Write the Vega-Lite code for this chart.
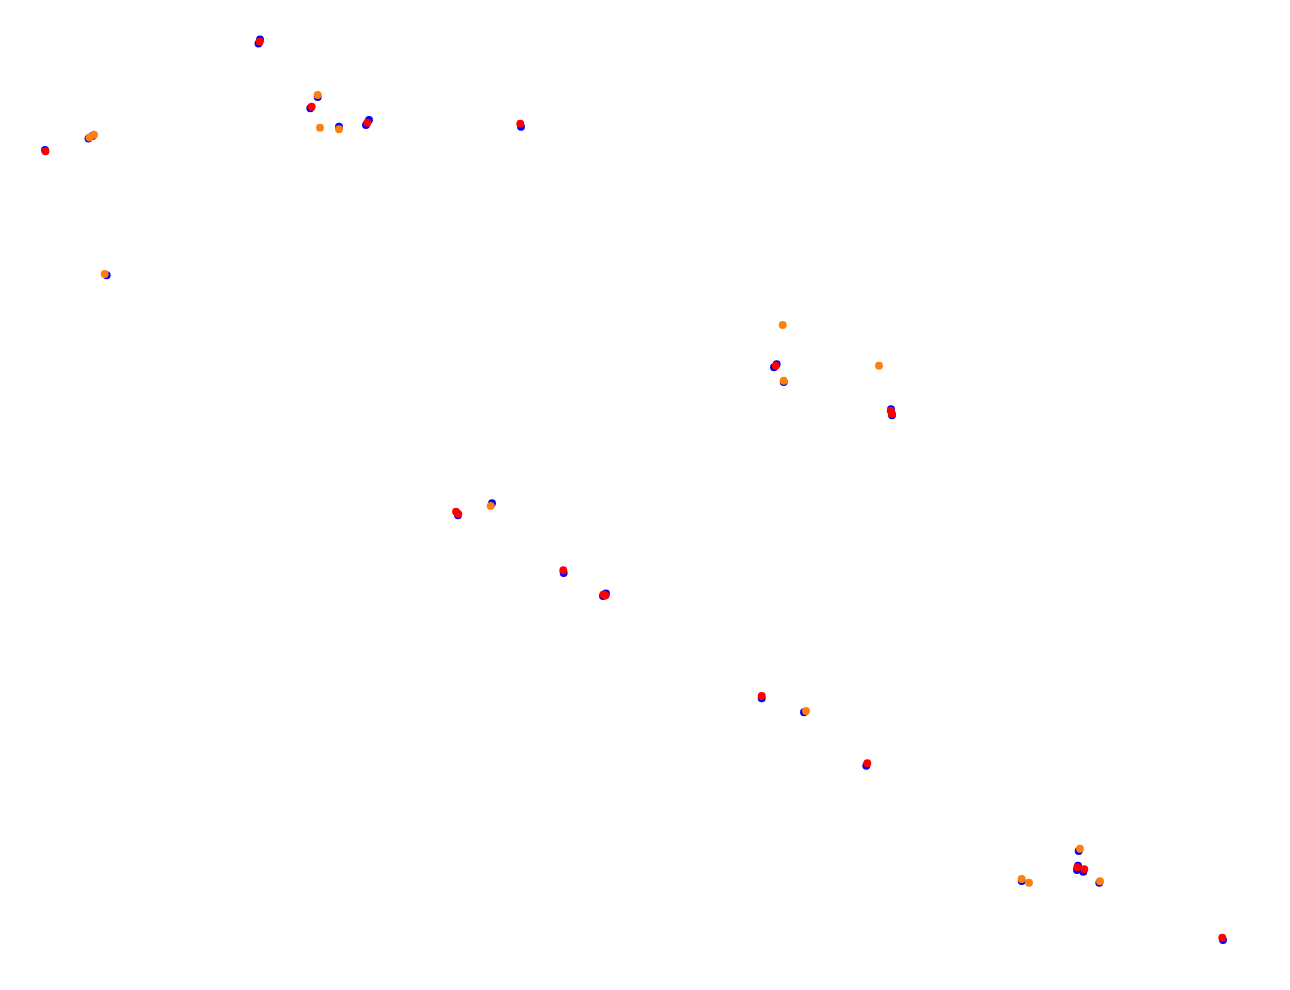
{
  "$schema": "https://vega.github.io/schema/vega-lite/v6.json",
  "width": 1290,
  "height": 990,
  "autosize": {"type": "none"},
  "padding": 0,
  "background": "white",
  "config": {"view": {"stroke": null}},
  "data": {"values": [
    {"x": 45, "y": 150, "s": "blue"},
    {"x": 88.5, "y": 138.5, "s": "blue"},
    {"x": 92.5, "y": 136, "s": "blue"},
    {"x": 260, "y": 39.5, "s": "blue"},
    {"x": 258.5, "y": 43.5, "s": "blue"},
    {"x": 317.7, "y": 97, "s": "blue"},
    {"x": 310.3, "y": 108.3, "s": "blue"},
    {"x": 339, "y": 126.7, "s": "blue"},
    {"x": 369, "y": 120, "s": "blue"},
    {"x": 366, "y": 125, "s": "blue"},
    {"x": 106.7, "y": 275.3, "s": "blue"},
    {"x": 521, "y": 126.7, "s": "blue"},
    {"x": 776.7, "y": 364.3, "s": "blue"},
    {"x": 774, "y": 367.3, "s": "blue"},
    {"x": 783.7, "y": 382, "s": "blue"},
    {"x": 891, "y": 409.3, "s": "blue"},
    {"x": 892, "y": 415.3, "s": "blue"},
    {"x": 458, "y": 515.3, "s": "blue"},
    {"x": 492, "y": 503.3, "s": "blue"},
    {"x": 563.7, "y": 573, "s": "blue"},
    {"x": 603, "y": 596, "s": "blue"},
    {"x": 606, "y": 593.5, "s": "blue"},
    {"x": 761.7, "y": 698.3, "s": "blue"},
    {"x": 804, "y": 712.3, "s": "blue"},
    {"x": 866.3, "y": 765.7, "s": "blue"},
    {"x": 1078.7, "y": 851, "s": "blue"},
    {"x": 1078, "y": 865.7, "s": "blue"},
    {"x": 1077, "y": 870, "s": "blue"},
    {"x": 1083.3, "y": 871.7, "s": "blue"},
    {"x": 1021.7, "y": 881, "s": "blue"},
    {"x": 1099.3, "y": 882.7, "s": "blue"},
    {"x": 1223, "y": 940, "s": "blue"},
    {"x": 89.5, "y": 137.5, "s": "orange"},
    {"x": 94, "y": 134.7, "s": "orange"},
    {"x": 317.7, "y": 95, "s": "orange"},
    {"x": 320, "y": 127.7, "s": "orange"},
    {"x": 339, "y": 129.3, "s": "orange"},
    {"x": 104.7, "y": 274, "s": "orange"},
    {"x": 782.7, "y": 325, "s": "orange"},
    {"x": 783.7, "y": 380.7, "s": "orange"},
    {"x": 879, "y": 365.7, "s": "orange"},
    {"x": 490.7, "y": 506, "s": "orange"},
    {"x": 806, "y": 711, "s": "orange"},
    {"x": 1080, "y": 848.7, "s": "orange"},
    {"x": 1021.7, "y": 879, "s": "orange"},
    {"x": 1029, "y": 882.7, "s": "orange"},
    {"x": 1100, "y": 881.3, "s": "orange"},
    {"x": 45.5, "y": 151.3, "s": "red"},
    {"x": 259.7, "y": 41.7, "s": "red"},
    {"x": 311.7, "y": 106.7, "s": "red"},
    {"x": 367.3, "y": 122.7, "s": "red"},
    {"x": 520.3, "y": 123.7, "s": "red"},
    {"x": 775.7, "y": 365.7, "s": "red"},
    {"x": 890.7, "y": 410.8, "s": "red"},
    {"x": 892, "y": 414, "s": "red"},
    {"x": 456, "y": 511.7, "s": "red"},
    {"x": 458.3, "y": 514, "s": "red"},
    {"x": 563.3, "y": 570.3, "s": "red"},
    {"x": 603.5, "y": 594.5, "s": "red"},
    {"x": 605.5, "y": 595.5, "s": "red"},
    {"x": 761.7, "y": 696, "s": "red"},
    {"x": 867.3, "y": 763.3, "s": "red"},
    {"x": 1077.3, "y": 867.3, "s": "red"},
    {"x": 1084.3, "y": 869.3, "s": "red"},
    {"x": 1222.3, "y": 937.7, "s": "red"}
  ]},
  "mark": {"type": "circle", "size": 62, "opacity": 1},
  "encoding": {
    "x": {"field": "x", "type": "quantitative", "scale": {"domain": [0, 1290], "nice": false, "zero": false}, "axis": null},
    "y": {"field": "y", "type": "quantitative", "scale": {"domain": [0, 990], "reverse": true, "nice": false, "zero": false}, "axis": null},
    "color": {"field": "s", "type": "nominal", "scale": {"domain": ["blue", "orange", "red"], "range": ["#0000ff", "#ff7f0e", "#ff0000"]}, "legend": null}
  }
}
